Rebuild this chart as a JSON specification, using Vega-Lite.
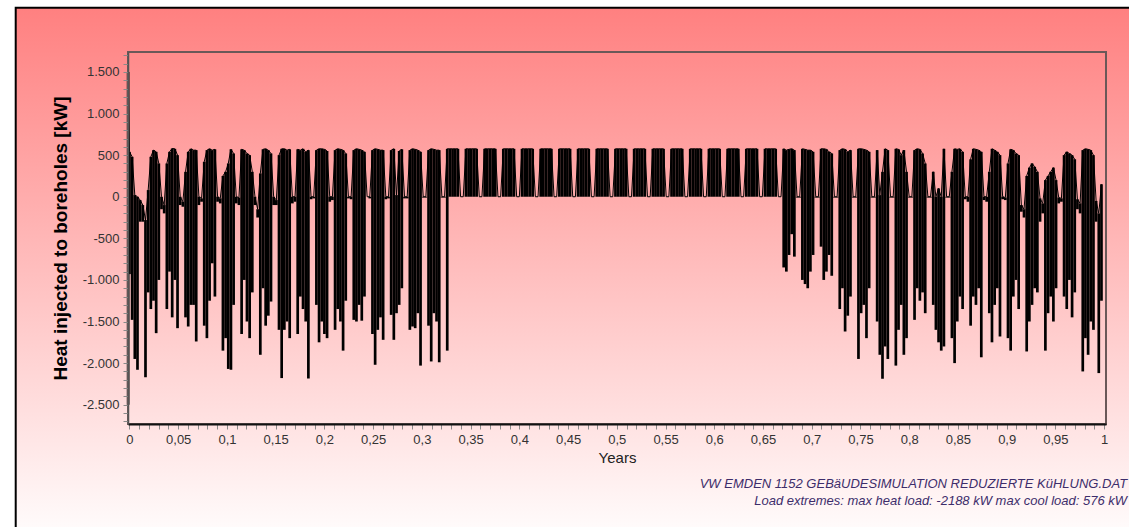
{
"$schema": "https://vega.github.io/schema/vega-lite/v6.json",
"width": 978, "height": 372,
"autosize": {"type": "none"},
"padding": {"left": 128, "top": 52, "right": 23, "bottom": 103},
"background": "white",
"config": {
  "locale": {"number": {"decimal": ",", "thousands": ".", "grouping": [3], "currency": ["", " €"], "minus": "-"}},
  "view": {"stroke": null},
  "font": "Liberation Sans",
  "axis": {"labelFont": "Liberation Sans", "titleFont": "Liberation Sans", "labelFontSize": 13, "labelColor": "#333333", "tickColor": "#8a8a8a", "tickSize": 5, "tickWidth": 1, "labelPadding": 4, "grid": false, "labelOverlap": false, "labelFlush": false, "zindex": 1}
},
"data": {"values": [
{"d":-0.5,"lo":-2500,"hi":1500},
{"d":0,"lo":-930,"hi":540},{"d":1,"lo":-1480,"hi":480},{"d":2,"lo":-1950,"hi":20},{"d":3,"lo":-2080,"hi":0},{"d":4,"lo":-300,"hi":-40},{"d":5,"lo":-300,"hi":-100},{"d":6,"lo":-2170,"hi":-280},
{"d":7,"lo":-1150,"hi":80},{"d":8,"lo":-1350,"hi":480},{"d":9,"lo":-1250,"hi":560},{"d":10,"lo":-1640,"hi":540},{"d":11,"lo":-1000,"hi":400},{"d":12,"lo":-150,"hi":0},{"d":13,"lo":-200,"hi":-100},
{"d":14,"lo":-1350,"hi":400},{"d":15,"lo":-900,"hi":540},{"d":16,"lo":-1450,"hi":580},{"d":17,"lo":-1000,"hi":576},{"d":18,"lo":-1580,"hi":500},{"d":19,"lo":-100,"hi":0},{"d":20,"lo":-120,"hi":-60},
{"d":21,"lo":-1450,"hi":300},{"d":22,"lo":-1560,"hi":540},{"d":23,"lo":-1300,"hi":576},{"d":24,"lo":-1300,"hi":560},{"d":25,"lo":-1740,"hi":560},{"d":26,"lo":-100,"hi":0},{"d":27,"lo":-60,"hi":-20},
{"d":28,"lo":-1550,"hi":420},{"d":29,"lo":-1700,"hi":560},{"d":30,"lo":-1250,"hi":576},{"d":31,"lo":-800,"hi":560},{"d":32,"lo":-1200,"hi":570},{"d":33,"lo":-60,"hi":0},{"d":34,"lo":-80,"hi":-20},
{"d":35,"lo":-1850,"hi":250},{"d":36,"lo":-1700,"hi":300},{"d":37,"lo":-2070,"hi":400},{"d":38,"lo":-2080,"hi":570},{"d":39,"lo":-1300,"hi":520},{"d":40,"lo":-80,"hi":0},{"d":41,"lo":-100,"hi":-10},
{"d":42,"lo":-1650,"hi":570},{"d":43,"lo":-1000,"hi":560},{"d":44,"lo":-1500,"hi":520},{"d":45,"lo":-1700,"hi":500},{"d":46,"lo":-1150,"hi":300},{"d":47,"lo":-100,"hi":0},{"d":48,"lo":-250,"hi":-150},
{"d":49,"lo":-1900,"hi":280},{"d":50,"lo":-1100,"hi":570},{"d":51,"lo":-1550,"hi":576},{"d":52,"lo":-1430,"hi":560},{"d":53,"lo":-1260,"hi":520},{"d":54,"lo":-100,"hi":0},{"d":55,"lo":-100,"hi":-40},
{"d":56,"lo":-1600,"hi":500},{"d":57,"lo":-2180,"hi":576},{"d":58,"lo":-1600,"hi":576},{"d":59,"lo":-1500,"hi":560},{"d":60,"lo":-1700,"hi":570},{"d":61,"lo":-80,"hi":0},{"d":62,"lo":-60,"hi":0},
{"d":63,"lo":-1650,"hi":570},{"d":64,"lo":-1200,"hi":560},{"d":65,"lo":-1350,"hi":576},{"d":66,"lo":-1500,"hi":540},{"d":67,"lo":-2185,"hi":560},{"d":68,"lo":-30,"hi":0},{"d":69,"lo":-20,"hi":0},
{"d":70,"lo":-1300,"hi":560},{"d":71,"lo":-1750,"hi":576},{"d":72,"lo":-1500,"hi":576},{"d":73,"lo":-1650,"hi":570},{"d":74,"lo":-1700,"hi":550},{"d":75,"lo":-60,"hi":0},{"d":76,"lo":-40,"hi":0},
{"d":77,"lo":-1600,"hi":560},{"d":78,"lo":-1350,"hi":576},{"d":79,"lo":-1500,"hi":570},{"d":80,"lo":-1850,"hi":560},{"d":81,"lo":-1250,"hi":520},{"d":82,"lo":-20,"hi":0},{"d":83,"lo":-30,"hi":0},
{"d":84,"lo":-1480,"hi":560},{"d":85,"lo":-1500,"hi":576},{"d":86,"lo":-1300,"hi":570},{"d":87,"lo":-1490,"hi":560},{"d":88,"lo":-1200,"hi":540},{"d":89,"lo":0,"hi":0},{"d":90,"lo":-20,"hi":0},
{"d":91,"lo":-1650,"hi":560},{"d":92,"lo":-2020,"hi":576},{"d":93,"lo":-1600,"hi":570},{"d":94,"lo":-1450,"hi":560},{"d":95,"lo":-1720,"hi":560},{"d":96,"lo":-30,"hi":0},{"d":97,"lo":-20,"hi":0},
{"d":98,"lo":-1420,"hi":560},{"d":99,"lo":-1720,"hi":576},{"d":100,"lo":-1400,"hi":20},{"d":101,"lo":-1300,"hi":550},{"d":102,"lo":-1100,"hi":570},{"d":103,"lo":-20,"hi":0},{"d":104,"lo":-20,"hi":0},
{"d":105,"lo":-1600,"hi":560},{"d":106,"lo":-1560,"hi":576},{"d":107,"lo":-1580,"hi":570},{"d":108,"lo":-1400,"hi":560},{"d":109,"lo":-2030,"hi":540},{"d":110,"lo":-10,"hi":0},{"d":111,"lo":-10,"hi":0},
{"d":112,"lo":-1550,"hi":560},{"d":113,"lo":-1980,"hi":576},{"d":114,"lo":-1400,"hi":570},{"d":115,"lo":-1500,"hi":560},{"d":116,"lo":-1990,"hi":560},{"d":117,"lo":-10,"hi":0},{"d":118,"lo":-10,"hi":0},
{"d":119,"lo":-1850,"hi":576},{"d":120,"lo":0,"hi":576},{"d":121,"lo":0,"hi":576},{"d":122,"lo":0,"hi":576},{"d":123,"lo":0,"hi":576},{"d":124,"lo":0,"hi":0},{"d":125,"lo":0,"hi":0},
{"d":126,"lo":0,"hi":576},{"d":127,"lo":0,"hi":576},{"d":128,"lo":0,"hi":576},{"d":129,"lo":0,"hi":576},{"d":130,"lo":0,"hi":576},{"d":131,"lo":0,"hi":0},{"d":132,"lo":0,"hi":0},
{"d":133,"lo":0,"hi":576},{"d":134,"lo":0,"hi":576},{"d":135,"lo":0,"hi":576},{"d":136,"lo":0,"hi":576},{"d":137,"lo":0,"hi":576},{"d":138,"lo":0,"hi":0},{"d":139,"lo":0,"hi":0},
{"d":140,"lo":0,"hi":576},{"d":141,"lo":0,"hi":576},{"d":142,"lo":0,"hi":576},{"d":143,"lo":0,"hi":576},{"d":144,"lo":0,"hi":576},{"d":145,"lo":0,"hi":0},{"d":146,"lo":0,"hi":0},
{"d":147,"lo":0,"hi":576},{"d":148,"lo":0,"hi":576},{"d":149,"lo":0,"hi":576},{"d":150,"lo":0,"hi":576},{"d":151,"lo":0,"hi":576},{"d":152,"lo":0,"hi":0},{"d":153,"lo":0,"hi":0},
{"d":154,"lo":0,"hi":576},{"d":155,"lo":0,"hi":576},{"d":156,"lo":0,"hi":576},{"d":157,"lo":0,"hi":576},{"d":158,"lo":0,"hi":576},{"d":159,"lo":0,"hi":0},{"d":160,"lo":0,"hi":0},
{"d":161,"lo":0,"hi":576},{"d":162,"lo":0,"hi":576},{"d":163,"lo":0,"hi":576},{"d":164,"lo":0,"hi":576},{"d":165,"lo":0,"hi":576},{"d":166,"lo":0,"hi":0},{"d":167,"lo":0,"hi":0},
{"d":168,"lo":0,"hi":576},{"d":169,"lo":0,"hi":576},{"d":170,"lo":0,"hi":576},{"d":171,"lo":0,"hi":576},{"d":172,"lo":0,"hi":576},{"d":173,"lo":0,"hi":0},{"d":174,"lo":0,"hi":0},
{"d":175,"lo":0,"hi":576},{"d":176,"lo":0,"hi":576},{"d":177,"lo":0,"hi":576},{"d":178,"lo":0,"hi":576},{"d":179,"lo":0,"hi":576},{"d":180,"lo":0,"hi":0},{"d":181,"lo":0,"hi":0},
{"d":182,"lo":0,"hi":576},{"d":183,"lo":0,"hi":576},{"d":184,"lo":0,"hi":576},{"d":185,"lo":0,"hi":576},{"d":186,"lo":0,"hi":576},{"d":187,"lo":0,"hi":0},{"d":188,"lo":0,"hi":0},
{"d":189,"lo":0,"hi":576},{"d":190,"lo":0,"hi":576},{"d":191,"lo":0,"hi":576},{"d":192,"lo":0,"hi":576},{"d":193,"lo":0,"hi":576},{"d":194,"lo":0,"hi":0},{"d":195,"lo":0,"hi":0},
{"d":196,"lo":0,"hi":576},{"d":197,"lo":0,"hi":576},{"d":198,"lo":0,"hi":576},{"d":199,"lo":0,"hi":576},{"d":200,"lo":0,"hi":576},{"d":201,"lo":0,"hi":0},{"d":202,"lo":0,"hi":0},
{"d":203,"lo":0,"hi":576},{"d":204,"lo":0,"hi":576},{"d":205,"lo":0,"hi":576},{"d":206,"lo":0,"hi":576},{"d":207,"lo":0,"hi":576},{"d":208,"lo":0,"hi":0},{"d":209,"lo":0,"hi":0},
{"d":210,"lo":0,"hi":576},{"d":211,"lo":0,"hi":576},{"d":212,"lo":0,"hi":576},{"d":213,"lo":0,"hi":576},{"d":214,"lo":0,"hi":576},{"d":215,"lo":0,"hi":0},{"d":216,"lo":0,"hi":0},
{"d":217,"lo":0,"hi":576},{"d":218,"lo":0,"hi":576},{"d":219,"lo":0,"hi":576},{"d":220,"lo":0,"hi":576},{"d":221,"lo":0,"hi":576},{"d":222,"lo":0,"hi":0},{"d":223,"lo":0,"hi":0},
{"d":224,"lo":0,"hi":576},{"d":225,"lo":0,"hi":576},{"d":226,"lo":0,"hi":576},{"d":227,"lo":0,"hi":576},{"d":228,"lo":0,"hi":576},{"d":229,"lo":0,"hi":0},{"d":230,"lo":0,"hi":0},
{"d":231,"lo":0,"hi":576},{"d":232,"lo":0,"hi":576},{"d":233,"lo":0,"hi":576},{"d":234,"lo":0,"hi":576},{"d":235,"lo":0,"hi":576},{"d":236,"lo":0,"hi":0},{"d":237,"lo":0,"hi":0},
{"d":238,"lo":0,"hi":576},{"d":239,"lo":0,"hi":576},{"d":240,"lo":0,"hi":576},{"d":241,"lo":0,"hi":576},{"d":242,"lo":0,"hi":576},{"d":243,"lo":0,"hi":0},{"d":244,"lo":0,"hi":0},
{"d":245,"lo":-850,"hi":576},{"d":246,"lo":-900,"hi":560},{"d":247,"lo":-700,"hi":570},{"d":248,"lo":-450,"hi":576},{"d":249,"lo":-720,"hi":560},{"d":250,"lo":-10,"hi":0},{"d":251,"lo":-10,"hi":0},
{"d":252,"lo":-1000,"hi":576},{"d":253,"lo":-1050,"hi":570},{"d":254,"lo":-1100,"hi":560},{"d":255,"lo":-900,"hi":560},{"d":256,"lo":-700,"hi":540},{"d":257,"lo":-10,"hi":0},{"d":258,"lo":-10,"hi":0},
{"d":259,"lo":-600,"hi":576},{"d":260,"lo":-1000,"hi":576},{"d":261,"lo":-900,"hi":570},{"d":262,"lo":-700,"hi":540},{"d":263,"lo":-950,"hi":520},{"d":264,"lo":-10,"hi":0},{"d":265,"lo":-10,"hi":0},
{"d":266,"lo":-1350,"hi":560},{"d":267,"lo":-1100,"hi":576},{"d":268,"lo":-1620,"hi":570},{"d":269,"lo":-1430,"hi":540},{"d":270,"lo":-1200,"hi":560},{"d":271,"lo":-10,"hi":0},{"d":272,"lo":-10,"hi":0},
{"d":273,"lo":-1950,"hi":576},{"d":274,"lo":-1400,"hi":576},{"d":275,"lo":-1300,"hi":570},{"d":276,"lo":-1700,"hi":560},{"d":277,"lo":-1100,"hi":540},{"d":278,"lo":-10,"hi":0},{"d":279,"lo":-10,"hi":0},
{"d":280,"lo":-1500,"hi":560},{"d":281,"lo":-1900,"hi":20},{"d":282,"lo":-2188,"hi":300},{"d":283,"lo":-1800,"hi":576},{"d":284,"lo":-1950,"hi":560},{"d":285,"lo":-10,"hi":0},{"d":286,"lo":-10,"hi":0},
{"d":287,"lo":-2030,"hi":576},{"d":288,"lo":-1600,"hi":570},{"d":289,"lo":-1300,"hi":500},{"d":290,"lo":-1900,"hi":560},{"d":291,"lo":-1700,"hi":300},{"d":292,"lo":-10,"hi":0},{"d":293,"lo":-10,"hi":0},
{"d":294,"lo":-1480,"hi":560},{"d":295,"lo":-1100,"hi":576},{"d":296,"lo":-1250,"hi":570},{"d":297,"lo":-1150,"hi":520},{"d":298,"lo":-1400,"hi":400},{"d":299,"lo":-10,"hi":0},{"d":300,"lo":-10,"hi":0},
{"d":301,"lo":-1300,"hi":300},{"d":302,"lo":-1600,"hi":0},{"d":303,"lo":-1750,"hi":100},{"d":304,"lo":-1850,"hi":0},{"d":305,"lo":-1800,"hi":576},{"d":306,"lo":-10,"hi":0},{"d":307,"lo":-10,"hi":0},
{"d":308,"lo":-1700,"hi":300},{"d":309,"lo":-2000,"hi":576},{"d":310,"lo":-1500,"hi":570},{"d":311,"lo":-1200,"hi":576},{"d":312,"lo":-1350,"hi":540},{"d":313,"lo":-30,"hi":0},{"d":314,"lo":-60,"hi":0},
{"d":315,"lo":-1550,"hi":450},{"d":316,"lo":-1200,"hi":576},{"d":317,"lo":-1300,"hi":570},{"d":318,"lo":-1100,"hi":560},{"d":319,"lo":-1930,"hi":540},{"d":320,"lo":-40,"hi":0},{"d":321,"lo":-60,"hi":0},
{"d":322,"lo":-1400,"hi":300},{"d":323,"lo":-1750,"hi":576},{"d":324,"lo":-1300,"hi":560},{"d":325,"lo":-1100,"hi":540},{"d":326,"lo":-1680,"hi":500},{"d":327,"lo":-30,"hi":0},{"d":328,"lo":-40,"hi":-10},
{"d":329,"lo":-1700,"hi":400},{"d":330,"lo":-1850,"hi":570},{"d":331,"lo":-1200,"hi":560},{"d":332,"lo":-1000,"hi":520},{"d":333,"lo":-1350,"hi":500},{"d":334,"lo":-180,"hi":-100},{"d":335,"lo":-250,"hi":-150},
{"d":336,"lo":-1860,"hi":250},{"d":337,"lo":-1500,"hi":350},{"d":338,"lo":-1300,"hi":400},{"d":339,"lo":-1100,"hi":360},{"d":340,"lo":-1150,"hi":300},{"d":341,"lo":-300,"hi":-20},{"d":342,"lo":-200,"hi":-80},
{"d":343,"lo":-1850,"hi":200},{"d":344,"lo":-1400,"hi":250},{"d":345,"lo":-1200,"hi":300},{"d":346,"lo":-1500,"hi":350},{"d":347,"lo":-1100,"hi":200},{"d":348,"lo":-80,"hi":-10},{"d":349,"lo":-60,"hi":-20},
{"d":350,"lo":-1200,"hi":500},{"d":351,"lo":-1350,"hi":540},{"d":352,"lo":-1000,"hi":520},{"d":353,"lo":-1450,"hi":500},{"d":354,"lo":-1150,"hi":450},{"d":355,"lo":-150,"hi":-30},{"d":356,"lo":-200,"hi":-80},
{"d":357,"lo":-2100,"hi":560},{"d":358,"lo":-1700,"hi":576},{"d":359,"lo":-1900,"hi":570},{"d":360,"lo":-1500,"hi":560},{"d":361,"lo":-1600,"hi":500},{"d":362,"lo":-300,"hi":-50},{"d":363,"lo":-2120,"hi":-200},
{"d":364,"lo":-1250,"hi":150}
]},
"layer": [
  {
    "data": {"values": [{}]},
    "mark": {"type": "rect", "fill": {"gradient": "linear", "x1": 0, "y1": 0, "x2": 0, "y2": 1, "stops": [{"offset": 0, "color": "#ff8080"}, {"offset": 1, "color": "#ffffff"}]}, "stroke": "#000000", "strokeWidth": 2},
    "encoding": {
      "x": {"datum": -42.6, "type": "quantitative", "scale": {"domain": [-0.55, 365.7], "nice": false, "zero": false},
        "axis": {"title": "Years", "zindex": 1, "tickCount": 500, "values": [0,3.65,7.3,10.95,14.6,18.25,21.9,25.55,29.2,32.85,36.5,40.15,43.8,47.45,51.1,54.75,58.4,62.05,65.7,69.35,73,76.65,80.3,83.95,87.6,91.25,94.9,98.55,102.2,105.85,109.5,113.15,116.8,120.45,124.1,127.75,131.4,135.05,138.7,142.35,146,149.65,153.3,156.95,160.6,164.25,167.9,171.55,175.2,178.85,182.5,186.15,189.8,193.45,197.1,200.75,204.4,208.05,211.7,215.35,219,222.65,226.3,229.95,233.6,237.25,240.9,244.55,248.2,251.85,255.5,259.15,262.8,266.45,270.1,273.75,277.4,281.05,284.7,288.35,292,295.65,299.3,302.95,306.6,310.25,313.9,317.55,321.2,324.85,328.5,332.15,335.8,339.45,343.1,346.75,350.4,354.05,357.7,361.35,365],
          "labelExpr": "abs(datum.value / 18.25 - round(datum.value / 18.25)) < 0.001 ? replace(format(datum.value / 365, '.2~f'), '.', ',') : ''",
          "domainColor": "#111111", "domainWidth": 2, "titleFontSize": 15, "titleFontWeight": "normal", "titleColor": "#222222", "titlePadding": 4}},
      "x2": {"datum": 420},
      "y": {"datum": 2271, "type": "quantitative", "scale": {"domain": [-2732, 1740], "nice": false, "zero": false},
        "axis": {"title": "Heat injected to boreholes [kW]", "zindex": 1, "tickCount": 500, "values": [-2700,-2600,-2500,-2400,-2300,-2200,-2100,-2000,-1900,-1800,-1700,-1600,-1500,-1400,-1300,-1200,-1100,-1000,-900,-800,-700,-600,-500,-400,-300,-200,-100,0,100,200,300,400,500,600,700,800,900,1000,1100,1200,1300,1400,1500,1600,1700],
          "format": ",d",
          "labelExpr": "datum.value % 500 === 0 ? replace(replace(datum.label, ',', '.'), '\u2212', '-') : ''",
          "domainColor": "#555555", "domainWidth": 1.5, "titleFontSize": 19, "titleFontWeight": "bold", "titleColor": "#000000", "titlePadding": 12}},
      "y2": {"datum": -4200}
    }
  },
  {
    "mark": {"type": "rule", "color": "#000000", "strokeWidth": 2.7},
    "encoding": {
      "x": {"field": "d", "type": "quantitative", "scale": {"domain": [-0.55, 365.7], "nice": false, "zero": false}},
      "y": {"field": "lo", "type": "quantitative", "scale": {"domain": [-2732, 1740], "nice": false, "zero": false}},
      "y2": {"field": "hi"}
    }
  },
  {
    "mark": {"type": "line", "color": "#000000", "strokeWidth": 1},
    "encoding": {
      "x": {"field": "d", "type": "quantitative", "scale": {"domain": [-0.55, 365.7], "nice": false, "zero": false}},
      "y": {"field": "hi", "type": "quantitative", "scale": {"domain": [-2732, 1740], "nice": false, "zero": false}}
    }
  },
  {
    "data": {"values": [{}]},
    "mark": {"type": "rect", "fill": null, "stroke": "#6a5858", "strokeWidth": 2},
    "encoding": {
      "x": {"datum": -0.55, "type": "quantitative", "scale": {"domain": [-0.55, 365.7], "nice": false, "zero": false}},
      "x2": {"datum": 365.7},
      "y": {"datum": 1740, "type": "quantitative", "scale": {"domain": [-2732, 1740], "nice": false, "zero": false}},
      "y2": {"datum": -2732}
    }
  },
  {
    "data": {"values": [{}]},
    "mark": {"type": "text", "text": ["VW EMDEN 1152 GEBäUDESIMULATION REDUZIERTE KüHLUNG.DAT", "Load extremes: max heat load: -2188 kW max cool load: 576 kW"], "align": "right", "baseline": "alphabetic", "lineHeight": 17, "font": "Liberation Sans", "fontSize": 13, "fontStyle": "italic", "color": "#3d2d6b"},
    "encoding": {
      "x": {"datum": 373.6, "type": "quantitative", "scale": {"domain": [-0.55, 365.7], "nice": false, "zero": false}},
      "y": {"datum": -3502, "type": "quantitative", "scale": {"domain": [-2732, 1740], "nice": false, "zero": false}}
    }
  }
]
}
